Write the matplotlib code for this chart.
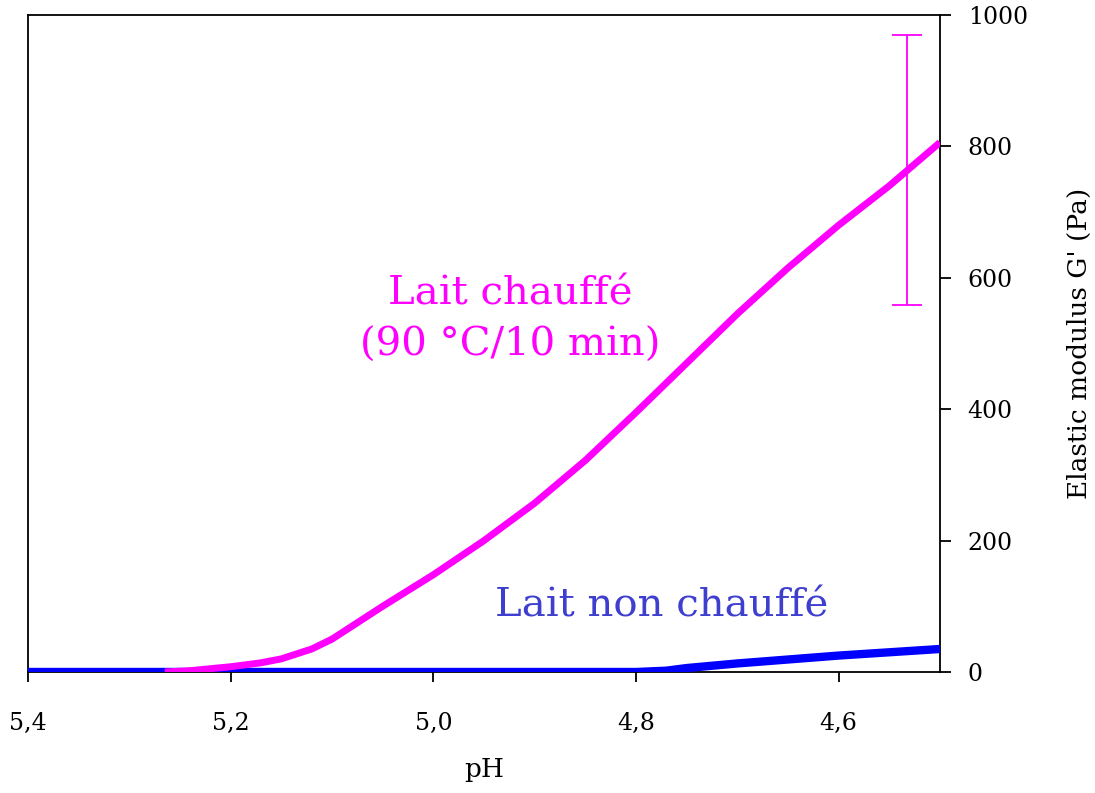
import numpy as np
import matplotlib
matplotlib.use('Agg')
import matplotlib.pyplot as plt

# ── data ──────────────────────────────────────────────────────────────────────
ph_heated = [5.265, 5.24, 5.20, 5.17, 5.15, 5.12, 5.10, 5.05, 5.00, 4.95,
             4.90, 4.85, 4.80, 4.75, 4.70, 4.65, 4.60, 4.55, 4.50]
g_heated = [0, 2, 8, 14, 20, 35, 50, 100, 148, 200,
            257, 322, 395, 470, 545, 615, 680, 740, 806]

ph_raw = [5.40, 5.20, 5.00, 4.85, 4.80, 4.77, 4.75, 4.70, 4.65, 4.60, 4.55, 4.50]
g_raw = [0, 0, 0, 0, 0, 2, 6, 13, 19, 25, 30, 35]

err_ph = 4.533
err_mean = 765
err_lo = 559
err_hi = 970

x_ticks = [5.4, 5.2, 5.0, 4.8, 4.6]
x_labels = ['5,4', '5,2', '5,0', '4,8', '4,6']
y_ticks = [0, 200, 400, 600, 800, 1000]

MAGENTA = '#ff00ff'
BLUE = '#0000ff'
serif = ['DejaVu Serif']

fig = plt.figure(figsize=(10.95, 7.93), dpi=100)
ax = fig.add_axes([0.0256, 0.1526, 0.8328, 0.8285])

ax.plot(ph_raw, g_raw, color=BLUE, lw=6, solid_capstyle='butt', zorder=3)
ax.plot(ph_heated, g_heated, color=MAGENTA, lw=5, solid_capstyle='butt', zorder=4)
ax.errorbar([err_ph], [err_mean],
            yerr=[[err_mean - err_lo], [err_hi - err_mean]],
            fmt='none', ecolor=MAGENTA, elinewidth=1.3, capsize=11,
            capthick=1.3, zorder=5)

ax.set_xlim(5.4, 4.5)
ax.set_ylim(0, 1000)

ax.set_xticks(x_ticks)
ax.set_xticklabels(x_labels, family=serif, fontsize=17)
ax.yaxis.tick_right()
ax.yaxis.set_label_position('right')
ax.set_yticks(y_ticks)
ax.set_yticklabels([str(v) for v in y_ticks], family=serif, fontsize=17)
ax.tick_params(axis='x', direction='out', length=7, width=1.3, pad=22)
ax.tick_params(axis='y', direction='out', length=8, width=1.3, pad=12)
for s in ax.spines.values():
    s.set_linewidth(1.3)

ax.set_xlabel('pH', family=serif, fontsize=19, labelpad=16)
ax.set_ylabel("Elastic modulus G' (Pa)", family=serif, fontsize=19, labelpad=28)

ax.text(4.924, 536, 'Lait chauffé\n(90 °C/10 min)', color=MAGENTA,
        family=serif, fontsize=29, ha='center', va='center', linespacing=1.5)
ax.text(4.775, 100, 'Lait non chauffé', color='#3f3fcf',
        family=serif, fontsize=29, ha='center', va='center')

fig.savefig('out.png', dpi=100)
